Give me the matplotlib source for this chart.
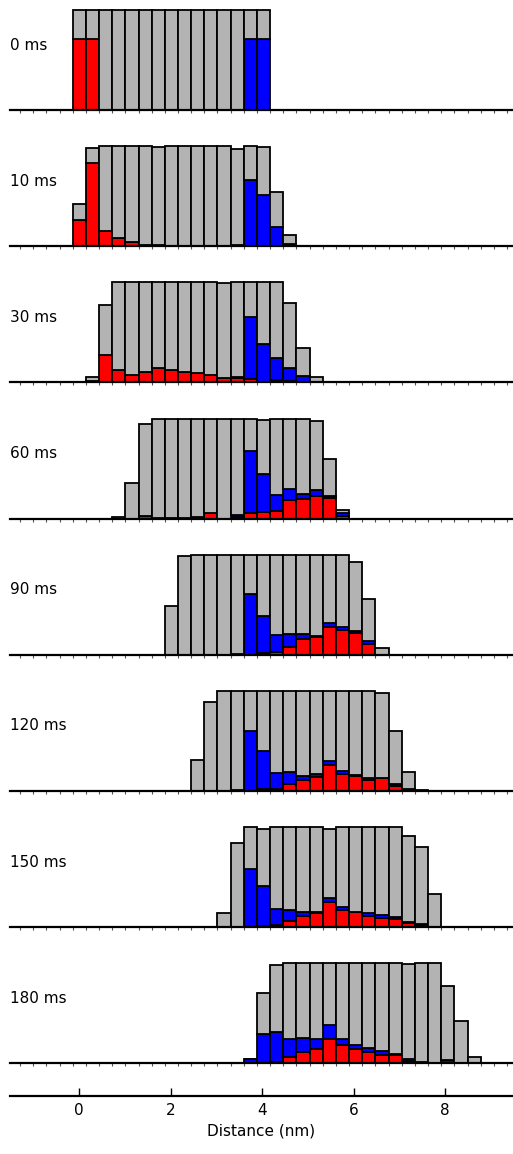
import matplotlib.pyplot as plt
import numpy as np

bin_w = 0.288  # nm, bin centres at k * bin_w
labels = ['0 ms', '10 ms', '30 ms', '60 ms', '90 ms', '120 ms', '150 ms', '180 ms']
first_bin = [0, 0, 1, 3, 7, 9, 11, 13]

# heights in % of the largest bar; red = bottom segment, blue = middle segment
total_0 = [100] * 15
red_0 = [71, 71] + [0] * 13
blue_0 = [0] * 13 + [71, 71]

total_10 = [42.5, 98, 100, 100, 100, 100, 99, 100, 100, 100, 100, 100, 97, 100, 99, 54, 11.5]
red_10 = [26, 83, 15, 8, 4.5, 1.5, 1.5, 0, 0, 0, 0, 0, 0, 0, 0, 0, 0]
blue_10 = [0] * 11 + [0.5, 1, 66, 51, 19, 2.5]

total_30 = [5, 77, 100, 100, 100, 100, 100, 100, 100, 100, 99, 100, 100, 100, 100, 79, 34, 5]
red_30 = [1.5, 27.5, 12, 7, 10.5, 14, 12, 10, 9, 7, 4.5, 4.5, 3, 0.5, 2.5, 1, 0.5, 0]
blue_30 = [0] * 11 + [0.5, 62, 38, 21.5, 13.5, 6, 0]

total_60 = [1.5, 36, 95, 100, 100, 100, 100, 100, 100, 100, 100, 99, 100, 100, 100, 98, 60, 9]
red_60 = [0, 0, 2.5, 0.5, 1, 1, 1.5, 6, 0, 2, 6, 6.5, 7.5, 18.5, 20, 23, 21, 2.5]
blue_60 = [0] * 9 + [2, 61.5, 38.5, 16.5, 11, 5, 6, 2, 3.5]

total_90 = [49, 99, 100, 100, 100, 99.5, 100, 100, 100, 100, 100, 100, 100, 100, 92.5, 56, 6.5]
red_90 = [0, 0, 0, 0, 0, 0.5, 0, 2, 3, 8, 15.5, 17.5, 28, 25, 21.5, 11, 0]
blue_90 = [0] * 5 + [0.5, 60.5, 37, 17, 12.5, 5.5, 1, 4, 2.5, 2.5, 3, 0]

total_120 = [31, 89, 100, 100, 100, 100, 100, 100, 100, 100, 100, 100, 100, 100, 98.5, 60, 19, 1.5]
red_120 = [0, 0, 0.5, 0, 0, 2, 2.5, 7.5, 11.5, 14, 26.5, 17, 15.5, 11, 13, 5.5, 2, 0]
blue_120 = [0, 0, 0, 1, 60, 38, 16, 11.5, 3.5, 3, 3.5, 3, 0.5, 2.5, 0.5, 1.5, 0.5, 0]

total_150 = [14, 84, 100, 98, 100, 100, 100, 100, 98, 100, 100, 100, 100, 100, 91.5, 80, 33.5]
red_150 = [0, 0, 0, 1, 2, 6, 11.5, 14, 25, 17, 15, 11, 9, 8.5, 4, 2, 0]
blue_150 = [0, 0, 58.5, 40.5, 16, 11, 3.5, 1.5, 4, 3, 0.5, 3, 3, 2, 1.5, 1, 0]

total_180 = [4.5, 70.5, 98, 100, 100, 100, 100, 100, 100, 100, 100, 100, 99, 100, 100, 77, 42, 6.5]
red_180 = [0, 0, 1.5, 6.5, 11, 14.5, 24.5, 18, 14, 11, 8, 8, 2.5, 0, 0, 0, 0, 0]
blue_180 = [4.5, 29, 29.5, 17.5, 14, 9.5, 14, 6, 4, 4.5, 4, 1, 1.5, 1, 0.5, 3.5, 0, 0]

totals = [total_0, total_10, total_30, total_60, total_90, total_120, total_150, total_180]
reds = [red_0, red_10, red_30, red_60, red_90, red_120, red_150, red_180]
blues = [blue_0, blue_10, blue_30, blue_60, blue_90, blue_120, blue_150, blue_180]

W, H = 513, 1154
fig = plt.figure(figsize=(W / 100, H / 100), dpi=100)

x0_px, x1_px = 10, 513
xlim = ((x0_px - 79.3) / 45.7, (x1_px - 79.3) / 45.7)
edges = (np.arange(-6, 35) - 0.5) * bin_w

for i in range(8):
    base_px = 110 + 136.2 * i
    ax = fig.add_axes([x0_px / W, 1 - base_px / H, (x1_px - x0_px) / W, 110 / H])
    tot = np.array(totals[i], float)
    r = np.array(reds[i], float)
    b = np.array(blues[i], float)
    x = (first_bin[i] + np.arange(len(tot))) * bin_w
    kw = dict(width=bin_w, edgecolor='black', linewidth=1.3)
    ax.bar(x, r, color='#ff0000', **kw)
    ax.bar(x, b, bottom=r, color='#0000ff', **kw)
    ax.bar(x, tot - r - b, bottom=r + b, color='#b3b3b3', **kw)
    for s in ['top', 'right', 'left']:
        ax.spines[s].set_visible(False)
    ax.spines['bottom'].set_linewidth(1.6)
    ax.set_yticks([])
    ax.set_xticks(edges)
    ax.tick_params(axis='x', length=2, width=0.8, labelbottom=False, color='#555555')
    ax.set_xlim(*xlim)
    ax.set_ylim(0, 110)
    ax.patch.set_visible(False)
    fig.text(x0_px / W, 1 - (base_px - 65) / H, labels[i], fontsize=11,
             ha='left', va='center')

axb = fig.add_axes([x0_px / W, 1 - 1096 / H, (x1_px - x0_px) / W, 0.001])
for s in ['top', 'right', 'left']:
    axb.spines[s].set_visible(False)
axb.spines['bottom'].set_linewidth(1.6)
axb.set_yticks([])
axb.set_xticks([0, 2, 4, 6, 8])
axb.set_xlim(*xlim)
axb.tick_params(axis='x', direction='in', length=6, width=1, labelsize=11, pad=5)
axb.set_xlabel('Distance (nm)', fontsize=11, labelpad=4)
axb.patch.set_visible(False)

fig.savefig('out.png', dpi=100)
